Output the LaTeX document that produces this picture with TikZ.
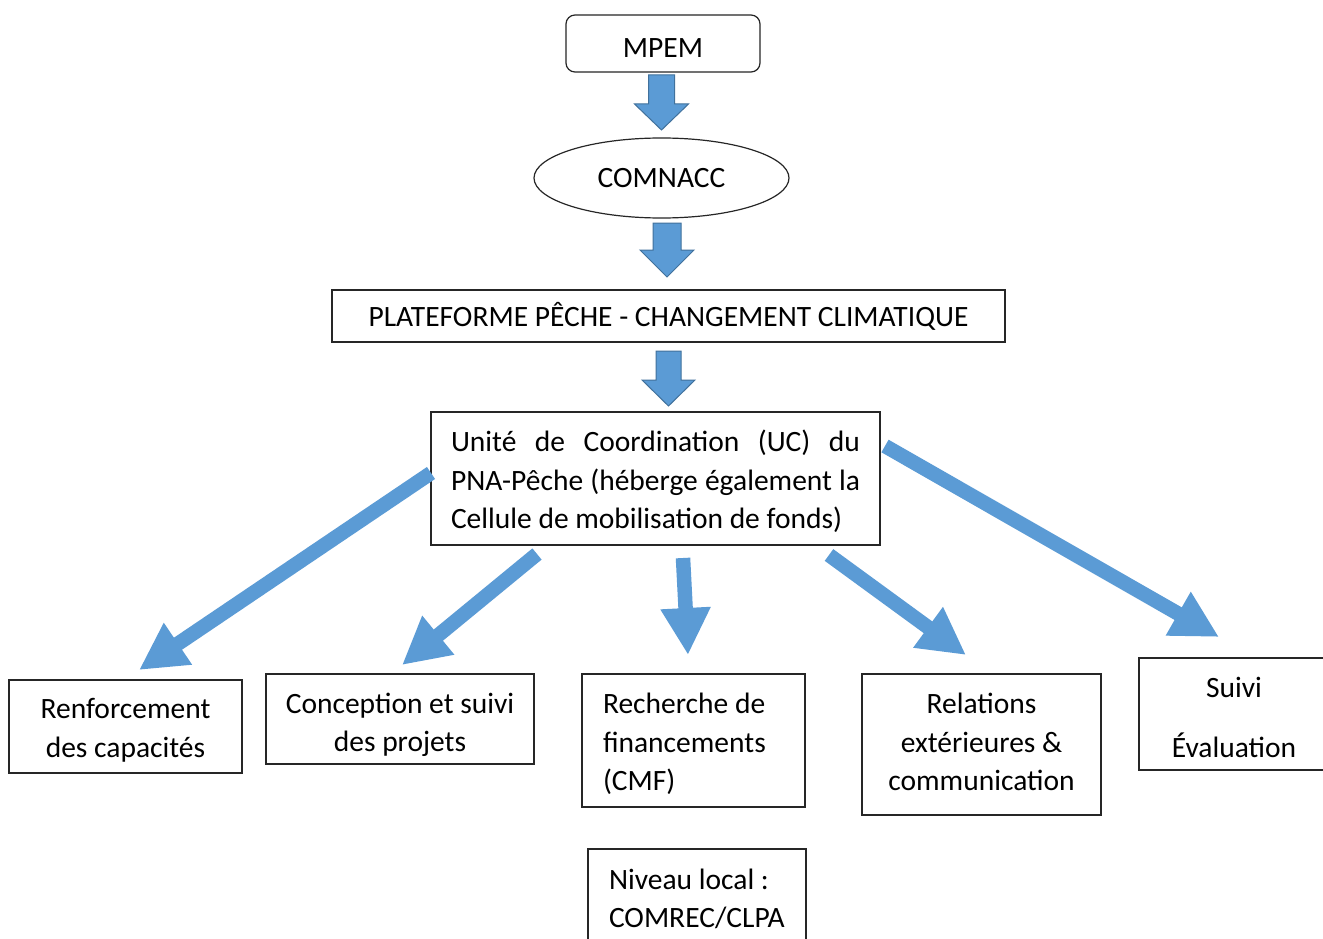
\documentclass[tikz,border=0pt]{standalone}
\usepackage{fontspec}
\setmainfont{Carlito}
\usetikzlibrary{shapes.geometric,arrows.meta}
\definecolor{arrowblue}{HTML}{5B9BD5}
\definecolor{arrowedge}{HTML}{41719C}
% #1 = twice the downward shift of the text, #2 = column type, #3 = lines
\newcommand\boxtext[3]{\raisebox{0pt}[\height][\dimexpr\depth-(#1)\relax]{\begin{tabular}{@{}#2@{}}#3\end{tabular}}}
\begin{document}
\begin{tikzpicture}[x=1pt,y=-1pt,
  box/.style={draw=black!85, line width=1.2pt, inner sep=0pt, font=\fontsize{29.5}{38.5}\selectfont, align=center},
  leftbox/.style={box, inner xsep=21pt, align=flush left},
  diag/.style={draw=arrowblue, line width=14.5pt, -{Triangle[width=47pt,length=47pt]}},
  vblock/.style={fill=arrowblue, draw=arrowedge, line width=1pt, line join=miter}]
\useasboundingbox (0,0) rectangle (1323,939);
\clip (0,0) rectangle (1323,939);
\fill[white] (0,0) rectangle (1323,939);

\node[box, rounded corners=9pt, minimum width=194pt, minimum height=57pt] (mpem) at (663,43.5) {\boxtext{12pt}{c}{MPEM}};
\node[box, ellipse, minimum width=255pt, minimum height=80pt] (comnacc) at (661.5,178) {\boxtext{4pt}{c}{COMNACC}};
\node[box, minimum width=673pt, minimum height=52pt] (plat) at (668.5,316) {\boxtext{6pt}{c}{PLATEFORME PÊCHE - CHANGEMENT CLIMATIQUE}};
\node[box, minimum width=449pt, minimum height=133pt] (uc) at (655.5,478.5)
  {\boxtext{8pt}{l}{\makebox[409pt][s]{Unité de Coordination (UC) du}\\
   \makebox[409pt][s]{PNA-Pêche (héberge également la}\\
   Cellule de mobilisation de fonds)}};

\node[box, minimum width=233pt, minimum height=93pt] (ren) at (125.5,726.5) {\boxtext{8pt}{c}{Renforcement\\des capacités}};
\node[box, minimum width=268pt, minimum height=90pt] (con) at (400,719) {\boxtext{12pt}{c}{Conception et suivi\\des projets}};
\node[leftbox, text width=181pt, minimum width=223pt, minimum height=133pt] (rec) at (693.5,740.5) {\boxtext{8pt}{l}{Recherche de\\financements\\(CMF)}};
\node[box, minimum width=239pt, minimum height=141pt] (rel) at (981.5,744.5) {\boxtext{0pt}{c}{Relations\\extérieures \&\\communication}};
\node[box, minimum width=190pt, minimum height=112pt] (sui) at (1234,714) {\boxtext{12pt}{c}{Suivi\\[21.5pt]Évaluation}};
\node[leftbox, text width=176pt, minimum width=218pt, minimum height=101pt] (niv) at (697,899.5) {\boxtext{3pt}{l}{Niveau local :\\COMREC/CLPA}};

% vertical block arrows
\draw[vblock] (648.5,75) -- (674.5,75) -- (674.5,104) -- (688.5,104) -- (661.5,130) -- (634.5,104) -- (648.5,104) -- cycle;
\draw[vblock] (653,223) -- (681,223) -- (681,250) -- (694,250) -- (667,277) -- (640,250) -- (653,250) -- cycle;
\draw[vblock] (656,351) -- (681,351) -- (681,380) -- (695,380) -- (668.5,406) -- (642,380) -- (656,380) -- cycle;

% diagonal arrows
\coordinate (t1) at (431,473); \coordinate (h1) at (139,670);
\coordinate (t2) at (537,554); \coordinate (h2) at (402,665);
\coordinate (t3) at (683,558); \coordinate (h3) at (688,655);
\coordinate (t4) at (829,555); \coordinate (h4) at (966,655);
\coordinate (t5) at (885,446); \coordinate (h5) at (1219,637);
\draw[diag] (t1) -- (h1);
\draw[diag] (t2) -- (h2);
\draw[diag] (t3) -- (h3);
\draw[diag] (t4) -- (h4);
\draw[diag] (t5) -- (h5);
\end{tikzpicture}
\end{document}
